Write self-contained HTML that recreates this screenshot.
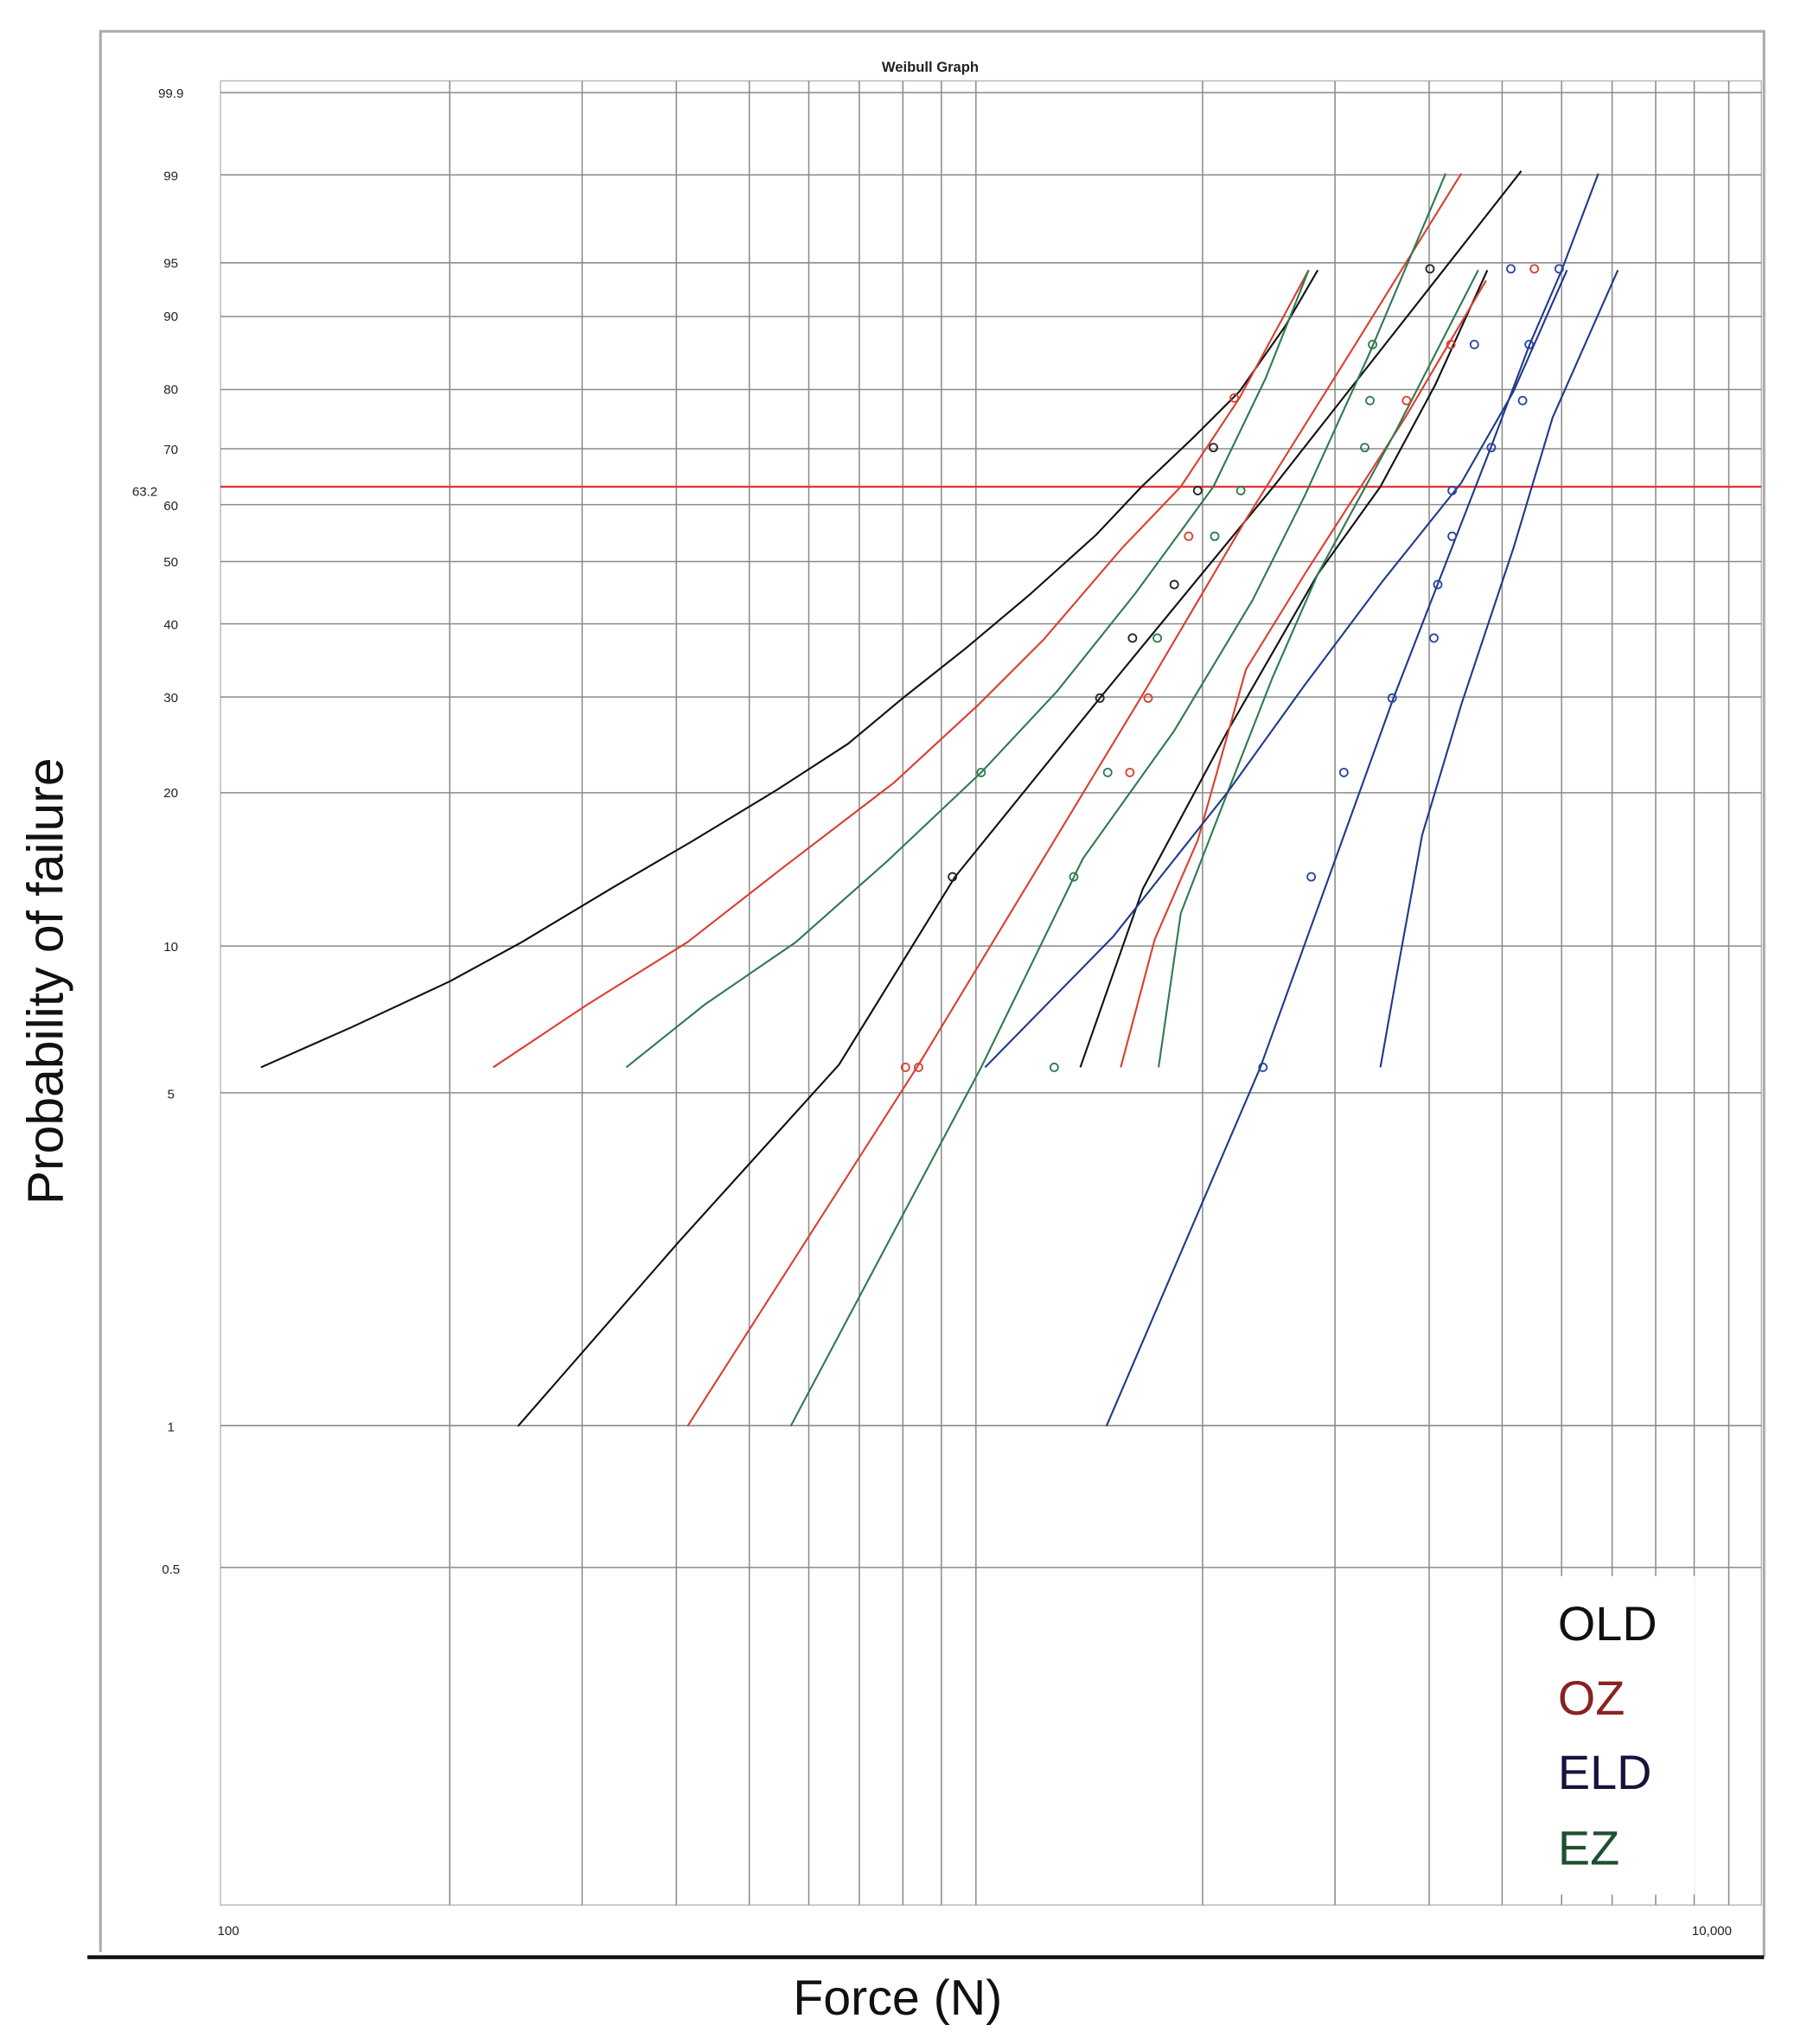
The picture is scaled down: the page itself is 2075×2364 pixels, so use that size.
<!DOCTYPE html>
<html><head><meta charset="utf-8"><style>
html,body{margin:0;padding:0;background:#fff;}
svg{display:block;}
</style></head><body>
<svg width="2075" height="2364" viewBox="0 0 1375 1566.5" xmlns="http://www.w3.org/2000/svg" font-family="Liberation Sans, sans-serif">
<rect x="0" y="0" width="1375" height="1566.5" fill="#fff"/>
<path d="M77,1496 L77,24 L1352,24 L1352,1500" fill="none" stroke="#aaa" stroke-width="2"/>
<text x="713" y="55" font-size="11" font-weight="bold" text-anchor="middle" fill="#222">Weibull Graph</text>
<g stroke="#8a8a8a" stroke-width="1" fill="none">
<rect x="169" y="62" width="1181" height="1398" stroke="#bbb"/>
<path d="M344.7,62V1460 M446.2,62V1460 M518.4,62V1460 M574.3,62V1460 M619.9,62V1460 M658.6,62V1460 M692,62V1460 M721.5,62V1460 M748,62V1460 M921.7,62V1460 M1023.2,62V1460 M1095.4,62V1460 M1151.3,62V1460 M1196.9,62V1460 M1235.6,62V1460 M1269,62V1460 M1298.5,62V1460 M1325,62V1460"/>
<path d="M169,71H1350 M169,134H1350 M169,201.4H1350 M169,242.6H1350 M169,298.5H1350 M169,343.9H1350 M169,386.7H1350 M169,430.4H1350 M169,478.1H1350 M169,534.2H1350 M169,607.6H1350 M169,725H1350 M169,837.5H1350 M169,1092.5H1350 M169,1201.3H1350"/>
</g>
<line x1="169" y1="373" x2="1350" y2="373" stroke="#e03a3a" stroke-width="1.6"/>
<g font-size="10" fill="#222" text-anchor="middle">
<text x="131" y="75">99.9</text><text x="131" y="138">99</text><text x="131" y="205">95</text>
<text x="131" y="246">90</text><text x="131" y="302">80</text><text x="131" y="348">70</text>
<text x="131" y="391">60</text><text x="111" y="380">63.2</text><text x="131" y="434">50</text>
<text x="131" y="482">40</text><text x="131" y="538">30</text><text x="131" y="611">20</text>
<text x="131" y="729">10</text><text x="131" y="842">5</text><text x="131" y="1097">1</text>
<text x="131" y="1206">0.5</text>
<text x="175" y="1483">100</text><text x="1312" y="1483">10,000</text>
</g>
<g fill="none" stroke-width="1.4" stroke-linejoin="round">
<polyline stroke="#111" points="200,818 270,787 345,752 400,722 470,680 530,645 596,605 650,570 692,535 740,497 790,455 840,410 875,373 915,335 950,300 985,250 1010,207"/>
<polyline stroke="#111" points="397,1093 520,952 643,816 732,672 843,535 976,373 1166,131"/>
<polyline stroke="#111" points="828,818 876,681 941,560 1010,440 1058,373 1100,295 1140,207"/>
<polyline stroke="#d84030" points="378,818 450,770 527,722 600,665 685,600 750,540 800,490 860,420 905,373 950,305 1003,207"/>
<polyline stroke="#d84030" points="527,1093 704,816 876,532 955,398 1040,262 1120,133"/>
<polyline stroke="#d84030" points="859,818 885,720 918,644 955,513 1000,440 1077,320 1139,215"/>
<polyline stroke="#2f7a4f" points="480,818 540,770 610,722 680,660 752,592 810,530 870,455 930,373 970,290 1003,207"/>
<polyline stroke="#2f7a4f" points="606,1093 752,818 830,658 900,560 960,460 1000,380 1050,270 1108,133"/>
<polyline stroke="#2f7a4f" points="888,818 905,700 941,607 975,520 1010,440 1070,330 1133,207"/>
<polyline stroke="#1f3a8a" points="755,818 853,718 941,607 1000,525 1060,445 1120,370 1160,300 1201,207"/>
<polyline stroke="#1f3a8a" points="848,1093 966,818 1068,535 1143,342 1172,265 1197,207 1225,133"/>
<polyline stroke="#1f3a8a" points="1058,818 1070,750 1090,640 1120,540 1160,420 1190,320 1240,207"/>
</g>
<g fill="none" stroke-width="1.2">
<g stroke="#222"><circle cx="730" cy="672" r="3"/><circle cx="843" cy="535" r="3"/><circle cx="868" cy="489" r="3"/><circle cx="900" cy="448" r="3"/><circle cx="918" cy="376" r="3"/><circle cx="930" cy="343" r="3"/><circle cx="1096" cy="206" r="3"/></g>
<g stroke="#d84030"><circle cx="694" cy="818" r="3"/><circle cx="704" cy="818" r="3"/><circle cx="866" cy="592" r="3"/><circle cx="880" cy="535" r="3"/><circle cx="911" cy="411" r="3"/><circle cx="946" cy="305" r="3"/><circle cx="1078" cy="307" r="3"/><circle cx="1112" cy="264" r="3"/><circle cx="1176" cy="206" r="3"/></g>
<g stroke="#2f7a4f"><circle cx="752" cy="592" r="3"/><circle cx="808" cy="818" r="3"/><circle cx="823" cy="672" r="3"/><circle cx="849" cy="592" r="3"/><circle cx="887" cy="489" r="3"/><circle cx="931" cy="411" r="3"/><circle cx="951" cy="376" r="3"/><circle cx="1046" cy="343" r="3"/><circle cx="1050" cy="307" r="3"/><circle cx="1052" cy="264" r="3"/></g>
<g stroke="#2a45a0"><circle cx="968" cy="818" r="3"/><circle cx="1005" cy="672" r="3"/><circle cx="1030" cy="592" r="3"/><circle cx="1067" cy="535" r="3"/><circle cx="1099" cy="489" r="3"/><circle cx="1102" cy="448" r="3"/><circle cx="1113" cy="411" r="3"/><circle cx="1113" cy="376" r="3"/><circle cx="1143" cy="343" r="3"/><circle cx="1167" cy="307" r="3"/><circle cx="1130" cy="264" r="3"/><circle cx="1172" cy="264" r="3"/><circle cx="1158" cy="206" r="3"/><circle cx="1195" cy="206" r="3"/></g>
</g>
<rect x="1177" y="1208" width="122" height="244" fill="#fff"/>
<g font-size="37">
<text x="1194" y="1257" fill="#111">OLD</text>
<text x="1194" y="1314" fill="#8a2222">OZ</text>
<text x="1194" y="1371" fill="#14143c">ELD</text>
<text x="1194" y="1429" fill="#1f4f30">EZ</text>
</g>
<line x1="67" y1="1500" x2="1352" y2="1500" stroke="#111" stroke-width="3"/>
<text x="688" y="1544" font-size="38" text-anchor="middle" fill="#111">Force (N)</text>
<text transform="translate(48,752) rotate(-90)" font-size="39" text-anchor="middle" fill="#111">Probability of failure</text>
</svg>
</body></html>
